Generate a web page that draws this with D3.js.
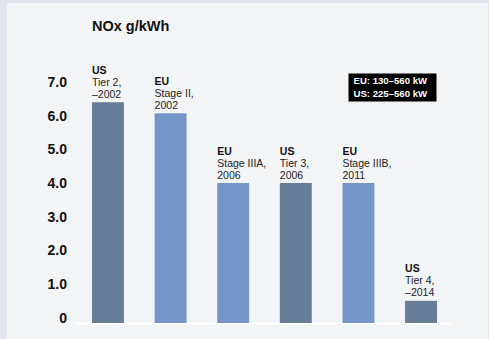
<!DOCTYPE html>
<html>
<head>
<meta charset="utf-8">
<script src="https://cdn.jsdelivr.net/npm/d3@7"></script>
<style>
  html, body { margin: 0; padding: 0; background: #e2e5eb; }
  svg { display: block; font-family: "Liberation Sans", Arial, Helvetica, sans-serif; }
</style>
</head>
<body>
<svg id="chart" width="489" height="339"></svg>
<script>
// NOx limits (g/kWh) for large off-road diesel engines
const regions = ["US", "EU", "EU", "US", "EU", "US"];
const stages  = ["Tier 2,", "Stage II,", "Stage IIIA,", "Tier 3,", "Stage IIIB,", "Tier 4,"];
const years   = ["\u20132002", "2002", "2006", "2006", "2011", "\u20132014"];
const values  = [6.4, 6.07, 4.0, 4.0, 4.0, 0.5];
const yTicks  = [0, 1, 2, 3, 4, 5, 6, 7];
const yTickLabels = ["0", "1.0", "2.0", "3.0", "4.0", "5.0", "6.0", "7.0"];
const legendLines = ["EU: 130\u2013560 kW", "US: 225\u2013560 kW"];

const colors = { US: "#687d98", EU: "#7395c9" };

const svg = d3.select("#chart");

// panel background
svg.append("rect")
  .attr("x", 7).attr("y", 3)
  .attr("width", 481).attr("height", 340)
  .attr("fill", "#f3f4f6");

const x = d3.scaleBand()
  .domain(d3.range(values.length))
  .range([92, 437])
  .paddingInner(0.49)
  .paddingOuter(0);

const y = d3.scaleLinear().domain([0, 7]).range([317.7, 82]);
const baseY = 323;

// title
svg.append("text")
  .attr("x", 92).attr("y", 31)
  .attr("font-size", 14.5).attr("font-weight", "bold")
  .attr("fill", "#111")
  .text("NOx g/kWh");

// y axis labels
const yAxis = d3.axisLeft(y)
  .tickValues(yTicks)
  .tickFormat((d, i) => yTickLabels[i])
  .tickSize(0)
  .tickPadding(0);

const gy = svg.append("g")
  .attr("transform", "translate(67,0)")
  .call(yAxis);
gy.select(".domain").remove();
gy.selectAll("text")
  .attr("font-size", 14)
  .attr("font-weight", "bold")
  .attr("fill", "#111")
  .attr("font-family", "'Liberation Sans', Arial, sans-serif");

// baseline
svg.append("line")
  .attr("x1", 75).attr("x2", 452)
  .attr("y1", baseY + 0.5).attr("y2", baseY + 0.5)
  .attr("stroke", "#ffffff").attr("stroke-width", 1.5);

// bars
svg.append("g").selectAll("rect")
  .data(values)
  .join("rect")
  .attr("x", (d, i) => x(i))
  .attr("y", d => y(d))
  .attr("width", x.bandwidth())
  .attr("height", d => baseY - y(d))
  .attr("fill", (d, i) => colors[regions[i]]);

// bar labels: region, stage, year stacked above each bar
const labels = svg.append("g").selectAll("text")
  .data(values)
  .join("text")
  .attr("x", (d, i) => x(i))
  .attr("font-size", 10.5)
  .attr("fill", "#222");

labels.each(function (d, i) {
  const t = d3.select(this);
  const last = y(d) - 4.5;
  t.append("tspan").attr("x", x(i)).attr("y", last - 24)
    .attr("font-weight", "bold").attr("fill", "#111").text(regions[i]);
  t.append("tspan").attr("x", x(i)).attr("y", last - 12).text(stages[i]);
  t.append("tspan").attr("x", x(i)).attr("y", last).text(years[i]);
});

// legend box
const lg = svg.append("g");
lg.append("rect")
  .attr("x", 348.5).attr("y", 73.5)
  .attr("width", 88).attr("height", 28)
  .attr("fill", "#000");
lg.selectAll("text")
  .data(legendLines)
  .join("text")
  .attr("x", 353.5)
  .attr("y", (d, i) => 84.3 + i * 12.6)
  .attr("font-size", 9.6)
  .attr("font-weight", "bold")
  .attr("fill", "#fff")
  .text(d => d);
</script>
</body>
</html>
